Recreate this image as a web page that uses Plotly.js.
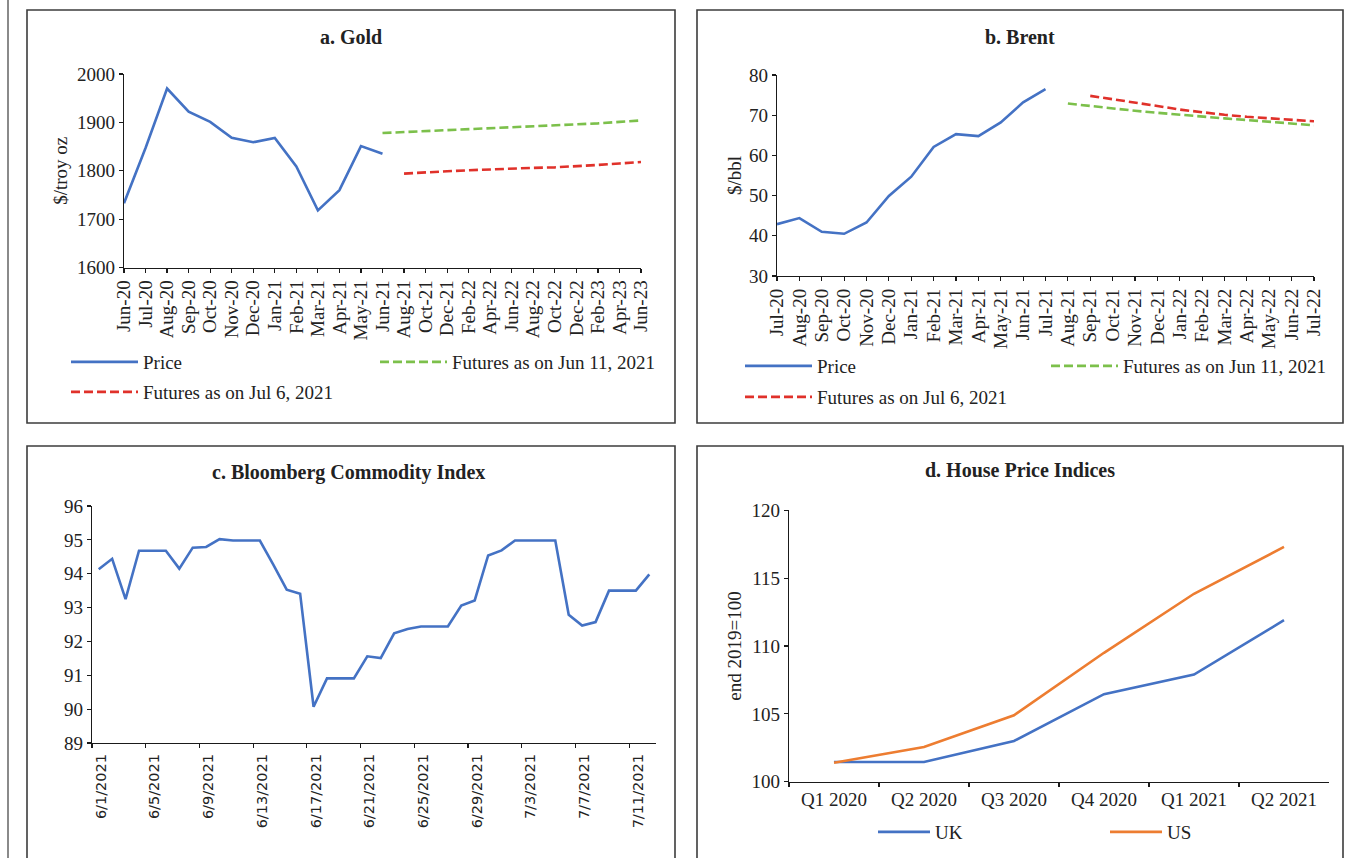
<!DOCTYPE html>
<html>
<head>
<meta charset="utf-8">
<script src="https://cdn.plot.ly/plotly-3.0.1.min.js"></script>
<style>html,body{margin:0;padding:0;background:#fff;}#chart{width:1358px;height:858px;}</style>
</head>
<body>
<div id="chart"></div>
<script>
// ---------- Data ----------
const goldMonths = ['Jun-20','Jul-20','Aug-20','Sep-20','Oct-20','Nov-20','Dec-20','Jan-21','Feb-21','Mar-21','Apr-21','May-21','Jun-21','Aug-21','Oct-21','Dec-21','Feb-22','Apr-22','Jun-22','Aug-22','Oct-22','Dec-22','Feb-23','Apr-23','Jun-23'];
const goldPrice = [1733,1847,1970,1922,1901,1868,1859,1868,1809,1718,1760,1851,1835];
const goldFutJun11 = [1878,1880,1882,1884,1886,1888,1889,1891,1893,1895,1898,1901,1904];
const goldFutJul6 = [1794,1797,1799,1801,1803,1804,1806,1807,1809,1812,1815,1818];

const brentMonths = ['Jul-20','Aug-20','Sep-20','Oct-20','Nov-20','Dec-20','Jan-21','Feb-21','Mar-21','Apr-21','May-21','Jun-21','Jul-21','Aug-21','Sep-21','Oct-21','Nov-21','Dec-21','Jan-22','Feb-22','Mar-22','Apr-22','May-22','Jun-22','Jul-22'];
const brentPrice = [42.9,44.4,41.0,40.5,43.3,49.9,54.7,62.1,65.3,64.8,68.2,73.2,76.5];
const brentFutJun11 = [72.9,72.3,71.6,71.1,70.6,70.1,69.6,69.2,68.8,68.4,68.0,67.5];
const brentFutJul6 = [74.8,74.0,73.1,72.3,71.4,70.7,70.1,69.6,69.2,68.9,68.5];

const bcomDates = ['2021-06-01','2021-06-02','2021-06-03','2021-06-04','2021-06-05','2021-06-06','2021-06-07','2021-06-08','2021-06-09','2021-06-10','2021-06-11','2021-06-12','2021-06-13','2021-06-14','2021-06-15','2021-06-16','2021-06-17','2021-06-18','2021-06-19','2021-06-20','2021-06-21','2021-06-22','2021-06-23','2021-06-24','2021-06-25','2021-06-26','2021-06-27','2021-06-28','2021-06-29','2021-06-30','2021-07-01','2021-07-02','2021-07-03','2021-07-04','2021-07-05','2021-07-06','2021-07-07','2021-07-08','2021-07-09','2021-07-10','2021-07-11','2021-07-12'];
const bcomValues = [94.13,94.44,93.25,94.68,94.68,94.68,94.15,94.77,94.79,95.02,94.98,94.98,94.98,94.27,93.53,93.41,90.07,90.91,90.91,90.91,91.56,91.51,92.24,92.37,92.44,92.44,92.44,93.06,93.21,94.54,94.69,94.98,94.98,94.98,94.98,92.79,92.47,92.57,93.50,93.50,93.50,93.98];
const bcomTickLabels = ['6/1/2021','6/5/2021','6/9/2021','6/13/2021','6/17/2021','6/21/2021','6/25/2021','6/29/2021','7/3/2021','7/7/2021','7/11/2021'];

const houseQuarters = ['Q1 2020','Q2 2020','Q3 2020','Q4 2020','Q1 2021','Q2 2021'];
const houseUK = [101.45,101.45,103.0,106.45,107.9,111.9];
const houseUS = [101.4,102.55,104.9,109.5,113.85,117.3];

// ---------- Styling ----------
const W = 1358, H = 858;
const px = v => v / W;
const py = v => 1 - v / H;
const SERIF = 'Liberation Serif, Times New Roman, serif';
const SANS = 'DejaVu Sans, Verdana, sans-serif';
const TXT = '#222222';
const BLUE = '#4472C4', GREEN = '#7CC04B', RED = '#E0312A', ORANGE = '#ED7D31';
const DASH = '9px,4px';

const DAY = 86400000;
const dayMs = s => Date.parse(s + 'T00:00:00Z');
const bcomTickVals = bcomDates.filter((d, i) => i % 4 === 0).map(d => dayMs(d) - DAY / 2);
const bcomRange = [dayMs(bcomDates[0]) - DAY / 2, dayMs(bcomDates[bcomDates.length - 1]) + DAY / 2];

const traces = [
  {x: goldMonths.slice(0, goldPrice.length), y: goldPrice, name: 'Price', xaxis: 'x', yaxis: 'y', legend: 'legend',
   mode: 'lines', line: {color: BLUE, width: 2.6}},
  {x: goldMonths.slice(goldPrice.length - 1), y: goldFutJun11, name: 'Futures as on Jun 11, 2021', xaxis: 'x', yaxis: 'y', legend: 'legend2',
   mode: 'lines', line: {color: GREEN, width: 2.6, dash: DASH}},
  {x: goldMonths.slice(goldPrice.length), y: goldFutJul6, name: 'Futures as on Jul 6, 2021', xaxis: 'x', yaxis: 'y', legend: 'legend3',
   mode: 'lines', line: {color: RED, width: 2.6, dash: DASH}},

  {x: brentMonths.slice(0, brentPrice.length), y: brentPrice, name: 'Price', xaxis: 'x2', yaxis: 'y2', legend: 'legend4',
   mode: 'lines', line: {color: BLUE, width: 2.6}},
  {x: brentMonths.slice(brentPrice.length), y: brentFutJun11, name: 'Futures as on Jun 11, 2021', xaxis: 'x2', yaxis: 'y2', legend: 'legend5',
   mode: 'lines', line: {color: GREEN, width: 2.6, dash: DASH}},
  {x: brentMonths.slice(brentPrice.length + 1), y: brentFutJul6, name: 'Futures as on Jul 6, 2021', xaxis: 'x2', yaxis: 'y2', legend: 'legend6',
   mode: 'lines', line: {color: RED, width: 2.6, dash: DASH}},

  {x: bcomDates, y: bcomValues, name: 'BCOM', xaxis: 'x3', yaxis: 'y3', showlegend: false,
   mode: 'lines', line: {color: BLUE, width: 2.6}},

  {x: houseQuarters, y: houseUK, name: 'UK', xaxis: 'x4', yaxis: 'y4', legend: 'legend7',
   mode: 'lines', line: {color: BLUE, width: 2.6}},
  {x: houseQuarters, y: houseUS, name: 'US', xaxis: 'x4', yaxis: 'y4', legend: 'legend8',
   mode: 'lines', line: {color: ORANGE, width: 2.6}}
];

const baseAxis = {
  showline: true, linecolor: '#1a1a1a', linewidth: 1.2, showgrid: false, zeroline: false,
  ticks: 'outside', ticklen: 4, tickwidth: 1.2, tickcolor: '#1a1a1a',
  tickfont: {family: SERIF, size: 19, color: TXT}, fixedrange: true
};
const mk = o => Object.assign({}, baseAxis, o);

const legendBase = (x, y, iw) => ({
  x: px(x), y: py(y), xanchor: 'left', yanchor: 'middle', orientation: 'h',
  bgcolor: 'rgba(0,0,0,0)', borderwidth: 0, itemwidth: iw || 67,
  font: {family: SERIF, size: 19, color: TXT}
});

const titleFont = {family: SERIF, size: 20, color: TXT, weight: 'bold'};
const ann = (text, x, y) => ({text: '<b>' + text + '</b>', x: px(x), y: py(y), xref: 'paper', yref: 'paper',
  xanchor: 'center', yanchor: 'middle', showarrow: false, font: titleFont});

const borderLine = {color: '#3c3c3c', width: 1.6};
const rect = (x0, y0, x1, y1) => ({type: 'rect', xref: 'paper', yref: 'paper',
  x0: px(x0), x1: px(x1), y0: py(y1), y1: py(y0), line: borderLine, fillcolor: 'rgba(0,0,0,0)', layer: 'below'});

const layout = {
  width: W, height: H, margin: {l: 0, r: 0, t: 0, b: 0, pad: 0},
  paper_bgcolor: '#ffffff', plot_bgcolor: '#ffffff', showlegend: true,
  font: {family: SERIF, size: 19, color: TXT},
  xaxis: mk({domain: [px(124), px(641)], anchor: 'y', type: 'category', categoryorder: 'array', categoryarray: goldMonths,
    range: [0, goldMonths.length - 1], tickmode: 'linear', tick0: 0, dtick: 1, tickangle: -90}),
  yaxis: mk({domain: [py(267.5), py(74)], anchor: 'x', range: [1600, 2000], dtick: 100,
    title: {text: '$/troy oz', font: {family: SERIF, size: 19, color: TXT}, standoff: 4}}),
  xaxis2: mk({domain: [px(777), px(1314)], anchor: 'y2', type: 'category', categoryorder: 'array', categoryarray: brentMonths,
    range: [0, brentMonths.length - 1], tickmode: 'linear', tick0: 0, dtick: 1, tickangle: -90}),
  yaxis2: mk({domain: [py(276), py(75)], anchor: 'x2', range: [30, 80], dtick: 10,
    title: {text: '$/bbl', font: {family: SERIF, size: 19, color: TXT}, standoff: 2}}),
  xaxis3: mk({domain: [px(92), px(656)], anchor: 'y3', type: 'date', range: bcomRange,
    tickmode: 'array', tickvals: bcomTickVals, ticktext: bcomTickLabels, tickangle: -90, ticklabelshift: 9,
    tickfont: {family: SANS, size: 14.5, color: TXT}}),
  yaxis3: mk({domain: [py(743), py(506)], anchor: 'x3', range: [89, 96], dtick: 1}),
  xaxis4: mk({domain: [px(789), px(1329)], anchor: 'y4', type: 'category', categoryorder: 'array', categoryarray: houseQuarters,
    range: [-0.5, houseQuarters.length - 0.5], tickson: 'boundaries'}),
  yaxis4: mk({domain: [py(781.7), py(510.3)], anchor: 'x4', range: [100, 120], dtick: 5,
    title: {text: 'end 2019=100', font: {family: SERIF, size: 19, color: TXT}, standoff: 4}}),
  legend: legendBase(66, 362),
  legend2: legendBase(375, 362),
  legend3: legendBase(66, 392),
  legend4: legendBase(740, 366),
  legend5: legendBase(1046, 366),
  legend6: legendBase(740, 397),
  legend7: legendBase(873, 832, 52),
  legend8: legendBase(1105, 832, 52),
  annotations: [
    ann('a. Gold', 351, 37),
    ann('b. Brent', 1020, 37),
    ann('c. Bloomberg Commodity Index', 349, 472),
    ann('d. House Price Indices', 1020, 470)
  ],
  shapes: [
    rect(27, 10, 675, 423),
    rect(697, 10, 1343, 423),
    rect(27, 446, 675, 870),
    rect(697, 446, 1343, 870),
    {type: 'line', xref: 'paper', yref: 'paper', x0: px(8), x1: px(8), y0: 0, y1: 1, line: {color: '#3c3c3c', width: 1.2}}
  ]
};

Plotly.newPlot('chart', traces, layout, {staticPlot: true, displayModeBar: false});
</script>
</body>
</html>
